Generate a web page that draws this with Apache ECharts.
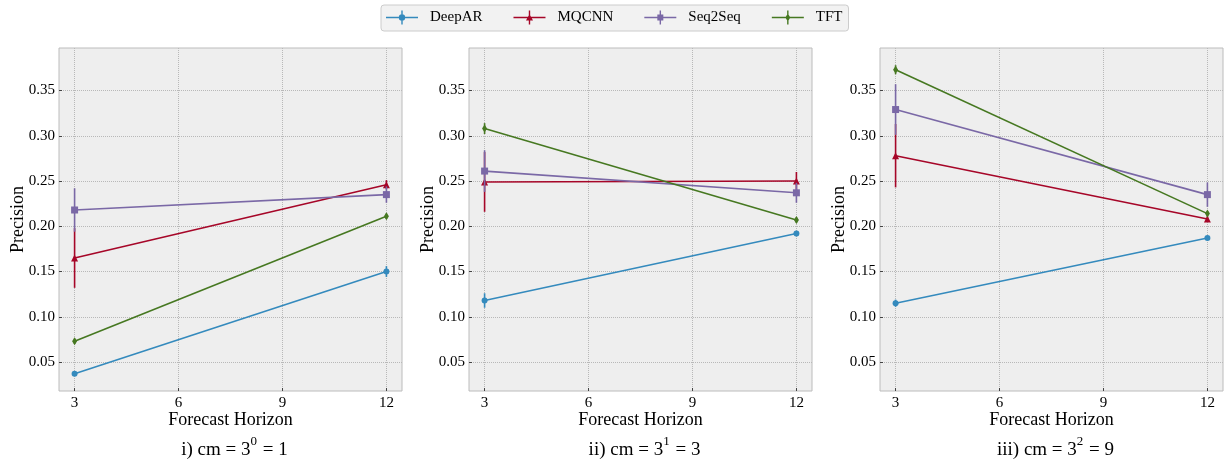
<!DOCTYPE html>
<html>
<head>
<meta charset="utf-8">
<script src="https://cdn.jsdelivr.net/npm/echarts@6/dist/echarts.min.js"></script>
<style>html,body{margin:0;padding:0;background:#fff;}#c{width:1225px;height:471px;}</style>
</head>
<body>
<div id="c"></div>
<script>
// ---- data ----
const models = ['DeepAR', 'MQCNN', 'Seq2Seq', 'TFT'];
const horizons = [3, 12];
const xTicks = [3, 6, 9, 12];
const yTicks = [0.05, 0.10, 0.15, 0.20, 0.25, 0.30, 0.35];
const panelTitles = ['{m|i) cm = 3}{sup|0}{m| = 1}', '{m|ii) cm = 3}{sup|1}{m| = 3}', '{m|iii) cm = 3}{sup|2}{m| = 9}'];

// precision values per panel (cm=1, cm=3, cm=9), at horizons [3, 12]
const deepar_cm1 = [0.037, 0.150];
const mqcnn_cm1 = [0.165, 0.246];
const seq2seq_cm1 = [0.218, 0.235];
const tft_cm1 = [0.073, 0.211];

const deepar_cm3 = [0.118, 0.192];
const mqcnn_cm3 = [0.249, 0.250];
const seq2seq_cm3 = [0.261, 0.237];
const tft_cm3 = [0.308, 0.207];

const deepar_cm9 = [0.115, 0.187];
const mqcnn_cm9 = [0.278, 0.208];
const seq2seq_cm9 = [0.329, 0.235];
const tft_cm9 = [0.373, 0.214];

// error bar half-widths
const deepar_err_cm1 = [0.002, 0.006];
const mqcnn_err_cm1 = [0.033, 0.005];
const seq2seq_err_cm1 = [0.024, 0.009];
const tft_err_cm1 = [0.003, 0.003];

const deepar_err_cm3 = [0.008, 0.003];
const mqcnn_err_cm3 = [0.033, 0.010];
const seq2seq_err_cm3 = [0.023, 0.011];
const tft_err_cm3 = [0.006, 0.003];

const deepar_err_cm9 = [0.004, 0.002];
const mqcnn_err_cm9 = [0.035, 0.003];
const seq2seq_err_cm9 = [0.028, 0.0135];
const tft_err_cm9 = [0.005, 0.003];

const panels = [
  { vals: [deepar_cm1, mqcnn_cm1, seq2seq_cm1, tft_cm1], errs: [deepar_err_cm1, mqcnn_err_cm1, seq2seq_err_cm1, tft_err_cm1] },
  { vals: [deepar_cm3, mqcnn_cm3, seq2seq_cm3, tft_cm3], errs: [deepar_err_cm3, mqcnn_err_cm3, seq2seq_err_cm3, tft_err_cm3] },
  { vals: [deepar_cm9, mqcnn_cm9, seq2seq_cm9, tft_cm9], errs: [deepar_err_cm9, mqcnn_err_cm9, seq2seq_err_cm9, tft_err_cm9] }
];

// ---- styling ----
const colors = ['#348ABD', '#A60628', '#7A68A6', '#467821'];
const symbols = ['circle', 'triangle', 'rect', 'diamond'];
const symbolSizes = [6, 7, 7, [5, 8]];
const FONT = 'Liberation Serif';
const gridLefts = [59, 469, 880];
const GW = 343, GH = 343, GT = 48;

const legendIcons = [
  'path://M0 6.2H32V7.8H0Z M15.3 0H16.7V14H15.3Z M12.8 7A3.2 3.2 0 1 1 19.2 7A3.2 3.2 0 1 1 12.8 7Z',
  'path://M0 6.2H32V7.8H0Z M15.3 0H16.7V14H15.3Z M16 3.5L19.5 10L12.5 10Z',
  'path://M0 6.2H32V7.8H0Z M15.3 0H16.7V14H15.3Z M13 4H19V10H13Z',
  'path://M0 6.2H32V7.8H0Z M15.3 0H16.7V14H15.3Z M16 3L18.5 7L16 11L13.5 7Z'
];

const grids = [], xAxes = [], yAxes = [], series = [], titles = [];
panels.forEach((p, pi) => {
  grids.push({ left: gridLefts[pi], top: GT, width: GW, height: GH, show: true,
    backgroundColor: '#eeeeee', borderColor: '#bcbcbc', borderWidth: 1 });
  xAxes.push({
    gridIndex: pi, type: 'value', min: 2.55, max: 12.45,
    name: 'Forecast Horizon', nameLocation: 'middle', nameGap: 20, nameMoveOverlap: false,
    nameTextStyle: { fontFamily: FONT, fontSize: 18, color: '#000' },
    axisLine: { show: false },
    axisTick: { show: true, inside: true, length: 3, lineStyle: { color: '#444' }, customValues: xTicks },
    axisLabel: { fontFamily: FONT, fontSize: 15, color: '#000', margin: 5, customValues: xTicks },
    splitLine: { show: true, lineStyle: { color: '#b8b8b8', type: [1, 1], width: 1 } }
  });
  yAxes.push({
    gridIndex: pi, type: 'value', min: 0.018, max: 0.397,
    name: 'Precision', nameLocation: 'middle', nameGap: 32, nameMoveOverlap: false,
    nameTextStyle: { fontFamily: FONT, fontSize: 18, color: '#000' },
    axisLine: { show: false },
    axisTick: { show: true, inside: true, length: 3, lineStyle: { color: '#444' }, customValues: yTicks },
    axisLabel: { fontFamily: FONT, fontSize: 15, color: '#000', margin: 4, customValues: yTicks,
      formatter: v => v.toFixed(2) },
    splitLine: { show: true, lineStyle: { color: '#b8b8b8', type: [1, 1], width: 1 } }
  });
  titles.push({
    text: panelTitles[pi], left: gridLefts[pi] + GW / 2 - 1, top: 429, textAlign: 'center',
    textStyle: { fontFamily: FONT, fontSize: 19, fontWeight: 'normal', color: '#000',
      rich: {
        m: { fontFamily: FONT, fontSize: 19, color: '#000', lineHeight: 26, verticalAlign: 'bottom' },
        sup: { fontFamily: FONT, fontSize: 13, color: '#000', lineHeight: 13, verticalAlign: 'top', padding: [1, 1, 0, 0] }
      } }
  });
  models.forEach((m, mi) => {
    const vals = p.vals[mi], errs = p.errs[mi];
    series.push({
      name: m, type: 'line', xAxisIndex: pi, yAxisIndex: pi,
      data: horizons.map((h, k) => [h, vals[k]]),
      symbol: symbols[mi], symbolSize: symbolSizes[mi], showSymbol: true,
      lineStyle: { color: colors[mi], width: 1.6 }, itemStyle: { color: colors[mi] },
      emphasis: { disabled: true }, animation: false, z: 3 + mi
    });
    series.push({
      name: m, type: 'custom', xAxisIndex: pi, yAxisIndex: pi,
      data: horizons.map((h, k) => [h, vals[k], errs[k]]),
      renderItem: (params, api) => {
        const x = api.value(0), y = api.value(1), e = api.value(2);
        const a = api.coord([x, y - e]), b = api.coord([x, y + e]);
        return { type: 'line', shape: { x1: a[0], y1: a[1], x2: b[0], y2: b[1] },
          style: { stroke: colors[mi], lineWidth: 1.6 } };
      },
      animation: false, z: 3 + mi, silent: true
    });
  });
});

const chart = echarts.init(document.getElementById('c'), null, { renderer: 'canvas' });
chart.setOption({
  animation: false,
  backgroundColor: '#ffffff',
  color: colors,
  title: titles,
  legend: {
    left: 381, top: 5, orient: 'horizontal',
    data: models.map((m, i) => ({ name: m, icon: legendIcons[i], itemStyle: { color: colors[i] } })),
    itemWidth: 32, itemHeight: 14, itemGap: 31,
    padding: [5, 6, 6, 5],
    backgroundColor: '#f2f2f2', borderColor: '#cccccc', borderWidth: 1, borderRadius: 3,
    textStyle: { fontFamily: FONT, fontSize: 15, color: '#000', padding: [0, 0, 0, 7] },
    selectedMode: false
  },
  grid: grids, xAxis: xAxes, yAxis: yAxes, series: series
});
</script>
</body>
</html>
